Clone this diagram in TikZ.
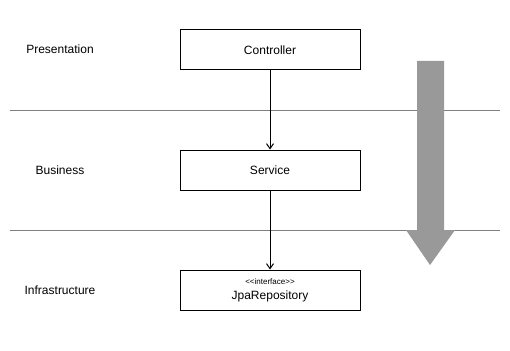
\documentclass[tikz,border=0pt]{standalone}
\usepackage{fontspec}
\setmainfont{Liberation Sans}
\usetikzlibrary{arrows.meta}
\begin{document}
\begin{tikzpicture}[x=1pt,y=-1pt,
  layerbox/.style={draw=black,line width=1pt,minimum width=180pt,minimum height=40pt,inner sep=0pt,font=\fontsize{12}{14}\selectfont,align=center},
  layerlabel/.style={font=\fontsize{12}{14}\selectfont},
  sepline/.style={draw=black!50,line width=1pt},
  dep/.style={draw=black,line width=1pt,-{Straight Barb[length=5pt,width=7pt]}}]
\useasboundingbox (0,0) rectangle (510,350);
\fill[white] (0,0) rectangle (510,350);
\draw[sepline] (10,110) -- (500,110);
\draw[sepline] (10,230) -- (500,230);
\node[layerlabel] (lp) at (60,49) {Presentation};
\node[layerlabel] (lb) at (60,170) {Business};
\node[layerlabel] (li) at (60,290) {Infrastructure};
\node[layerbox] (ctrl) at (270,50) {Controller};
\node[layerbox] (svc) at (270,170) {Service};
\node[layerbox] (repo) at (270,290) {\fontsize{8}{9}\selectfont <{}<interface>{}>\\[1pt]JpaRepository};
\draw[dep] (ctrl) -- (svc);
\draw[dep] (svc) -- (repo);
\fill[black!40] (417,61) -- (444,61) -- (444,230) -- (455,230) -- (430,265) -- (406,230) -- (417,230) -- cycle;
\end{tikzpicture}
\end{document}
